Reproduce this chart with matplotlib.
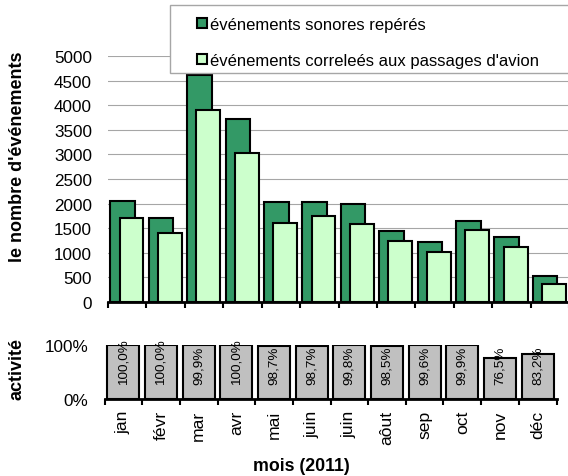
import numpy as np
import matplotlib.pyplot as plt
from matplotlib.patches import Rectangle

plt.rcParams["font.family"] = ["Liberation Sans", "DejaVu Sans"]

# Monthly data (2011)
months = ["jan", "févr", "mar", "avr", "mai", "juin", "juin", "aôut",
          "sep", "oct", "nov", "déc"]
events_detected = [2050, 1710, 4620, 3710, 2030, 2040, 1990, 1440,
                   1215, 1655, 1320, 520]
events_aircraft = [1700, 1410, 3900, 3035, 1600, 1745, 1590, 1230,
                   1020, 1470, 1125, 370]
activity = [1.000, 1.000, 0.999, 1.000, 0.987, 0.987, 0.998, 0.985,
            0.996, 0.999, 0.765, 0.832]

dark_green = "#339966"
light_green = "#CCFFCC"
grey = "#C0C0C0"
edge_lw = 1.5

W, H = 568, 477
fig = plt.figure(figsize=(W / 100, H / 100), dpi=100)

x = np.arange(len(months))

# --- upper panel: number of events ---
ax1 = fig.add_axes([108 / W, 1 - 303 / H, 461 / W, 246 / H])
ax1.bar(x - 0.12, events_detected, width=0.64, color=dark_green,
        edgecolor="black", linewidth=edge_lw, zorder=2,
        label="événements sonores repérés")
ax1.bar(x + 0.11, events_aircraft, width=0.62, color=light_green,
        edgecolor="black", linewidth=edge_lw, zorder=3,
        label="événements correleés aux passages d'avion")
ax1.set_xlim(-0.5, len(months) - 0.5)
ax1.set_ylim(0, 5000)
ax1.set_yticks(np.arange(0, 5001, 500))
ax1.yaxis.grid(True, color="#A6A6A6", linewidth=0.8, zorder=0)
ax1.set_axisbelow(True)
ax1.set_xticks(np.arange(-0.5, len(months), 1.0))
ax1.set_xticklabels([])
ax1.tick_params(axis="x", direction="out", length=4, width=1.5)
ax1.tick_params(axis="y", length=0, pad=11.5, labelsize=12.3)
for side in ["top", "right", "left"]:
    ax1.spines[side].set_visible(False)
ax1.spines["bottom"].set_linewidth(2)

# --- lower panel: activity rate ---
ax2 = fig.add_axes([104.5 / W, 1 - 400 / H, 452 / W, 54 / H])
ax2.bar(x, activity, width=0.85, color=grey, edgecolor="black",
        linewidth=edge_lw, zorder=2)
for xi, v in zip(x, activity):
    ax2.text(xi, 0.28, f"{v * 100:.1f}%".replace(".", ","), rotation=90,
             ha="center", va="bottom", fontsize=9.7, zorder=3)
ax2.set_xlim(-0.5, len(months) - 0.5)
ax2.set_ylim(0, 1)
ax2.set_yticks([0, 1])
ax2.set_yticklabels(["0%", "100%"])
ax2.set_xticks(np.arange(-0.5, len(months), 1.0))
ax2.set_xticklabels([])
ax2.set_xticks(x, minor=True)
ax2.set_xticklabels(months, minor=True, rotation=90, fontsize=12.6)
ax2.tick_params(axis="x", which="major", direction="out", length=4, width=1.5)
ax2.tick_params(axis="x", which="minor", length=0, pad=8)
ax2.tick_params(axis="y", length=0, pad=11.5, labelsize=12.3)
for side in ["top", "right", "left"]:
    ax2.spines[side].set_visible(False)
ax2.spines["bottom"].set_linewidth(2)

# axis titles
fig.text(18 / W, 1 - 157 / H, "le nombre d'événements", rotation=90,
         ha="center", va="center", fontsize=13, fontweight="bold")
fig.text(17 / W, 1 - 369 / H, "activité", rotation=90,
         ha="center", va="center", fontsize=13, fontweight="bold")
fig.text(301 / W, 1 - 467 / H, "mois (2011)", ha="center", va="center",
         fontsize=12.8, fontweight="bold")

# legend box running off the right edge
fig.patches.append(Rectangle((169.5 / W, 1 - 74 / H), 420 / W, 68 / H,
                             transform=fig.transFigure, facecolor="white",
                             edgecolor="#A6A6A6", linewidth=1, zorder=5))
leg = fig.legend(loc="upper left", bbox_to_anchor=(197 / W, 1 - 18 / H),
                 frameon=False, fontsize=12, handlelength=0.6,
                 handleheight=0.6, handletextpad=0.15, labelspacing=1.25,
                 borderpad=0, borderaxespad=0)
leg.set_zorder(6)

fig.savefig("out.png", dpi=100)
